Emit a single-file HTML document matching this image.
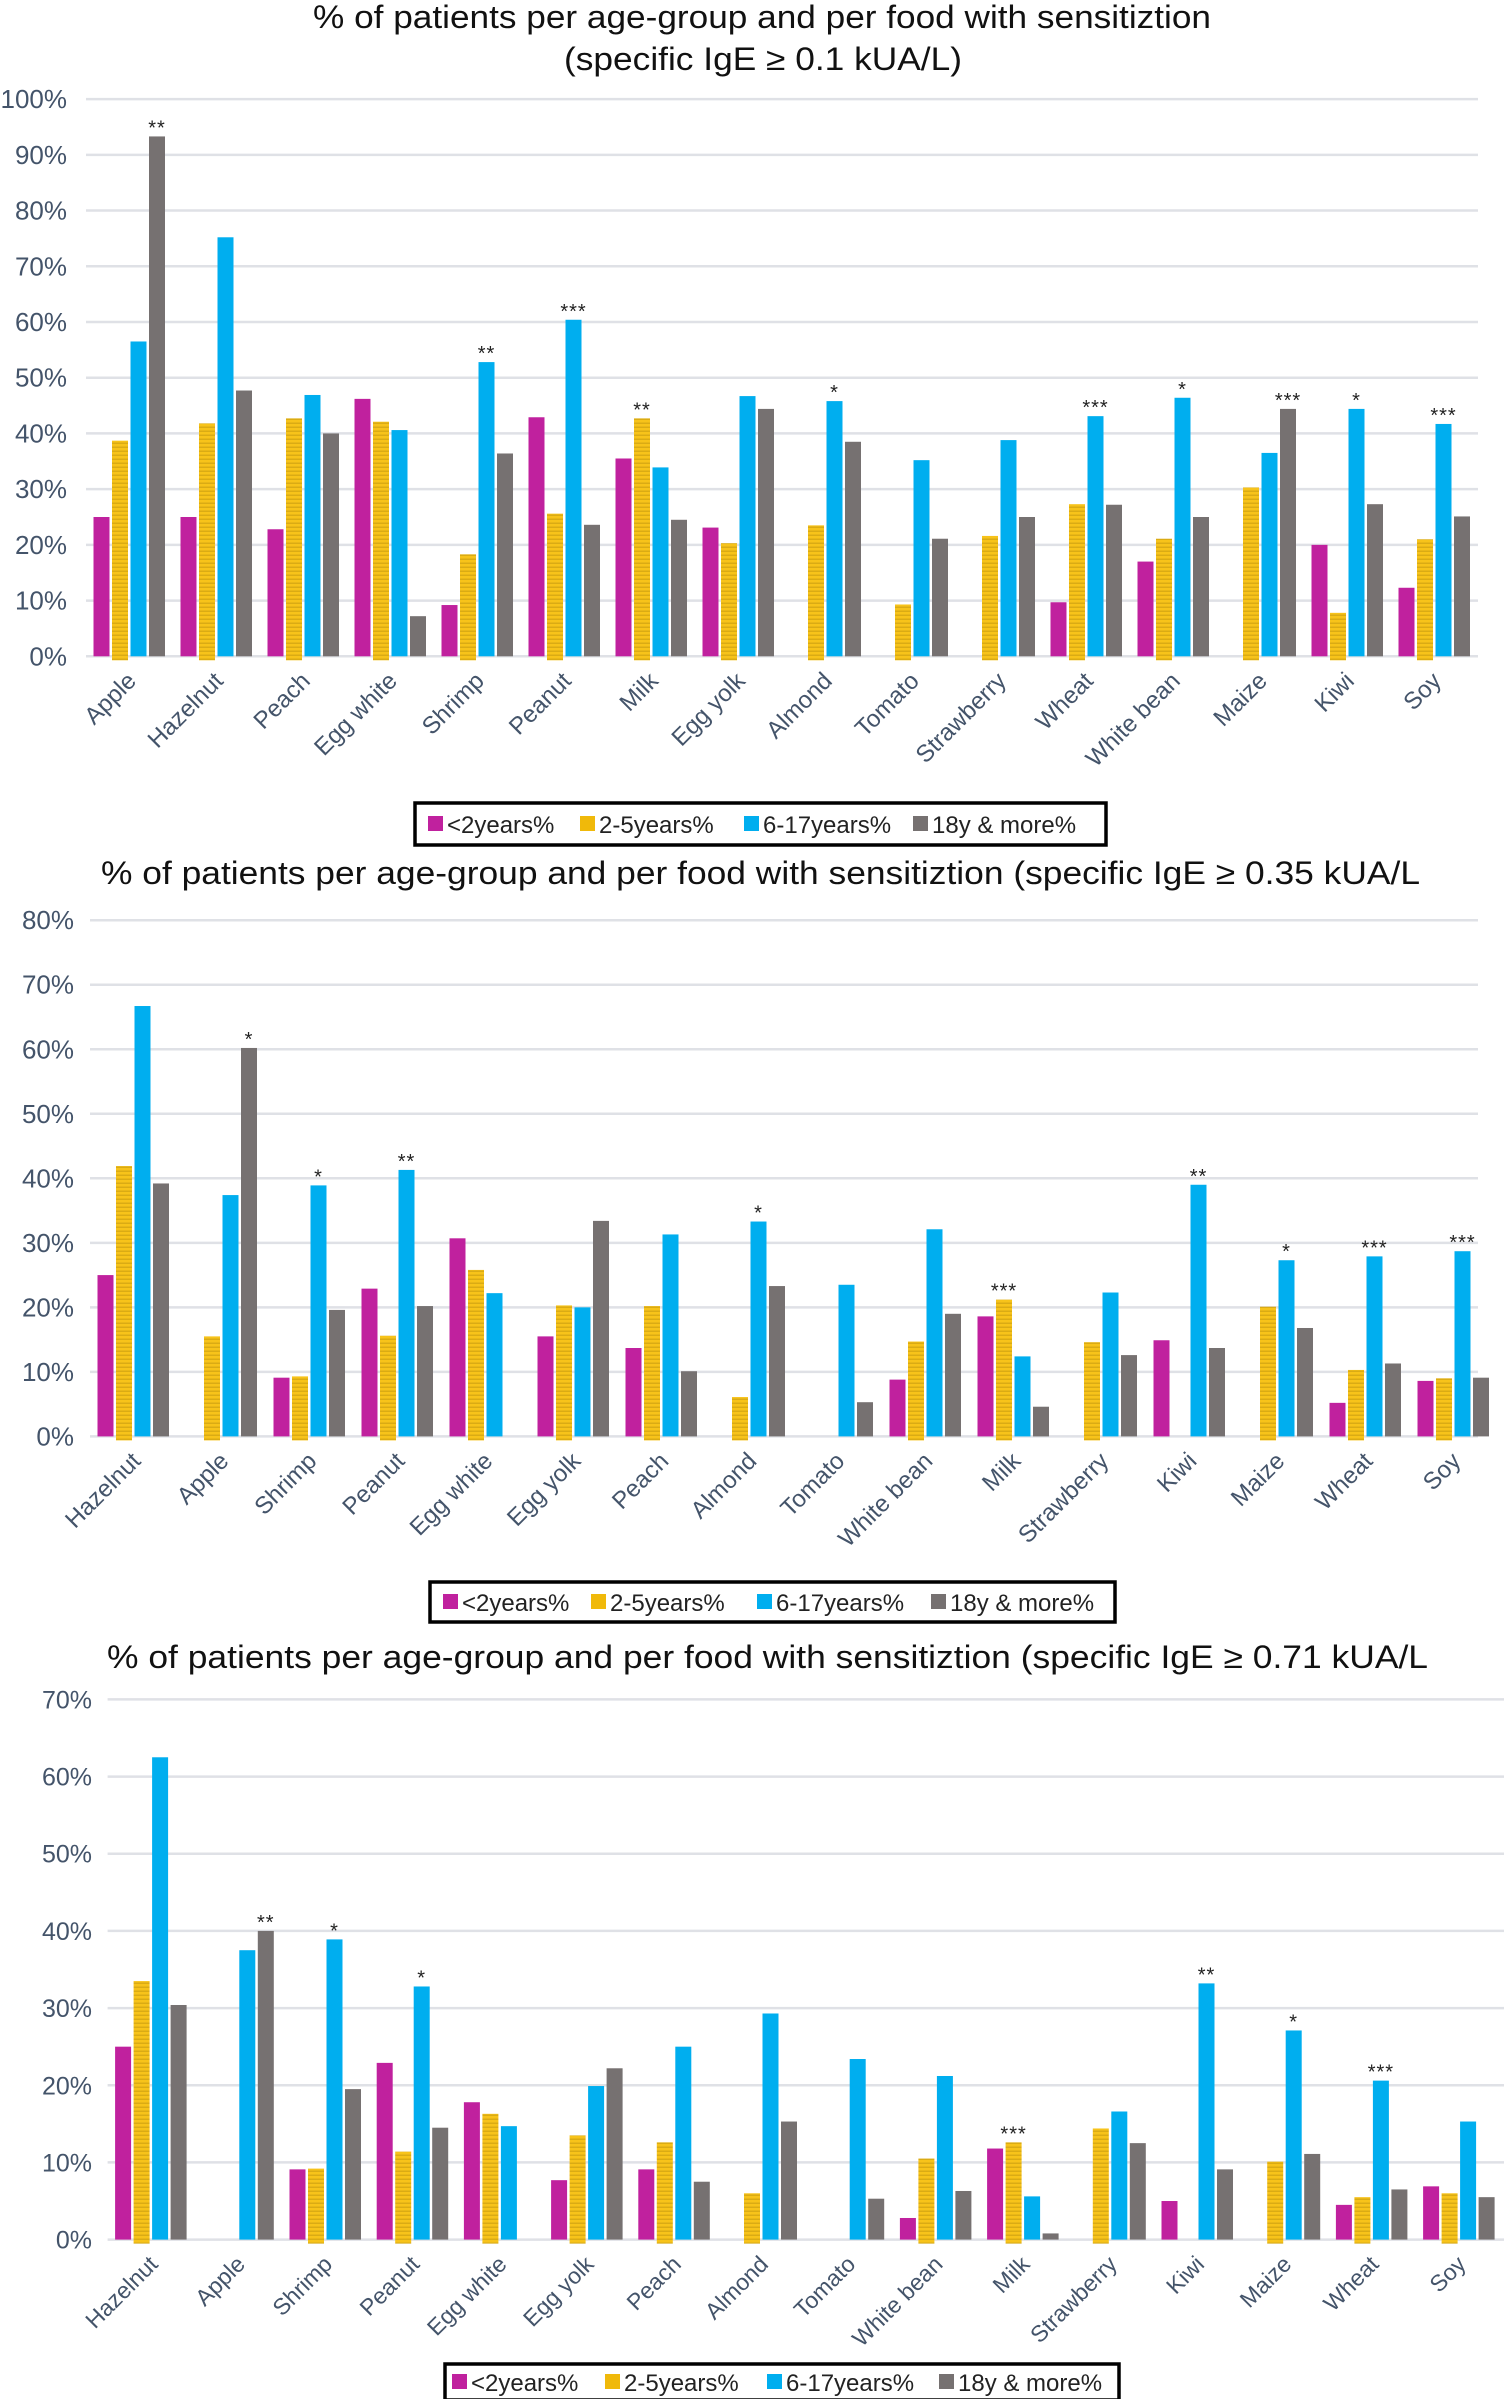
<!DOCTYPE html>
<html><head><meta charset="utf-8"><style>
html,body{margin:0;padding:0;background:#fff;}
svg{display:block;font-family:"Liberation Sans",sans-serif;}
</style></head><body>
<svg id="svg" width="1504" height="2399" viewBox="0 0 1504 2399">
<defs>
<pattern id="stripes" width="8" height="4" patternUnits="userSpaceOnUse">
<rect width="8" height="4" fill="#f7c31a"/><rect y="2.6" width="8" height="1.2" fill="#d4a512"/>
</pattern>
</defs>
</svg>
<script>
const seriesNames = ["<2years%", "2-5years%", "6-17years%", "18y & more%"];

const cats1 = ["Apple","Hazelnut","Peach","Egg white","Shrimp","Peanut","Milk","Egg yolk","Almond","Tomato","Strawberry","Wheat","White bean","Maize","Kiwi","Soy"];
const c1_lt2 = [25,25,22.8,46.2,9.2,42.9,35.5,23.1,0,0,0,9.7,17,0,20,12.3];
const c1_2to5 = [38.7,41.8,42.7,42.1,18.3,25.6,42.7,20.3,23.5,9.3,21.6,27.3,21.1,30.3,7.8,21];
const c1_6to17 = [56.5,75.2,46.9,40.6,52.8,60.4,33.9,46.7,45.8,35.2,38.8,43.1,46.4,36.5,44.4,41.7];
const c1_18p = [93.3,47.7,40,7.2,36.4,23.6,24.5,44.4,38.5,21.1,25,27.2,25,44.4,27.3,25.1];
const c1_sig = ["**","","","","**","***","**","","*","","","***","*","***","*","***"];
const c1_sigSeries = [3,0,0,0,2,2,1,0,2,0,0,2,2,3,2,2];
const c1_ticks = ["0%","10%","20%","30%","40%","50%","60%","70%","80%","90%","100%"];

const cats2 = ["Hazelnut","Apple","Shrimp","Peanut","Egg white","Egg yolk","Peach","Almond","Tomato","White bean","Milk","Strawberry","Kiwi","Maize","Wheat","Soy"];
const c2_lt2 = [25,0,9.1,22.9,30.7,15.5,13.7,0,0,8.8,18.6,0,14.9,0,5.2,8.6];
const c2_2to5 = [41.9,15.5,9.3,15.6,25.8,20.3,20.2,6.1,0,14.7,21.2,14.6,0,20.1,10.3,9];
const c2_6to17 = [66.7,37.4,38.9,41.3,22.2,20,31.3,33.3,23.5,32.1,12.4,22.3,39,27.3,27.9,28.7];
const c2_18p = [39.2,60.2,19.6,20.2,0,33.4,10.1,23.3,5.3,19,4.6,12.6,13.7,16.8,11.3,9.1];
const c2_sig = ["","*","*","**","","","","*","","","***","","**","*","***","***"];
const c2_sigSeries = [0,3,2,2,0,0,0,2,0,0,1,0,2,2,2,2];
const c2_ticks = ["0%","10%","20%","30%","40%","50%","60%","70%","80%"];

const cats3 = ["Hazelnut","Apple","Shrimp","Peanut","Egg white","Egg yolk","Peach","Almond","Tomato","White bean","Milk","Strawberry","Kiwi","Maize","Wheat","Soy"];
const c3_lt2 = [25,0,9.1,22.9,17.8,7.7,9.1,0,0,2.8,11.8,0,5,0,4.5,6.9];
const c3_2to5 = [33.5,0,9.2,11.4,16.3,13.5,12.6,6,0,10.5,12.6,14.4,0,10.1,5.5,6];
const c3_6to17 = [62.5,37.5,38.9,32.8,14.7,19.9,25,29.3,23.4,21.2,5.6,16.6,33.2,27.1,20.6,15.3];
const c3_18p = [30.4,40,19.5,14.5,0,22.2,7.5,15.3,5.3,6.3,0.8,12.5,9.1,11.1,6.5,5.5];
const c3_sig = ["","**","*","*","","","","","","","***","","**","*","***",""];
const c3_sigSeries = [0,3,2,2,0,0,0,0,0,0,1,0,2,2,2,0];
const c3_ticks = ["0%","10%","20%","30%","40%","50%","60%","70%"];

const NS = "http://www.w3.org/2000/svg";
const svg = document.getElementById("svg");
const fills = ["#c0219e","url(#stripes)","#00aeef","#767171"];
const legendFills = ["#c0219e","#f0b90a","#00aeef","#767171"];

function mk(tag, attrs, parent, text){
  const e = document.createElementNS(NS, tag);
  for (const k in attrs) e.setAttribute(k, attrs[k]);
  if (text !== undefined) e.textContent = text;
  (parent||svg).appendChild(e);
  return e;
}

function drawChart(cfg){
  const g = mk("g", {});
  
  
  const vmax = cfg.ticks.length - 1;
  const yS = v => cfg.y0 - (v/(vmax*10)) * (cfg.y0 - cfg.yTop);
  const xBand = i => cfg.left + i*cfg.band;
  cfg.titles.forEach(t => {
    const tt = mk("text", {x:t.x, y:t.y, "font-size":t.fs, fill:"#111", textLength:t.w, lengthAdjust:"spacingAndGlyphs"}, g, t.s);
    
    
  });
  cfg.ticks.forEach((lab, k) => {
    const y = yS(k*10);
    const ln = mk("line", {x1:cfg.left, x2:cfg.right, y1:y, y2:y, stroke:"#dfe1e6", "stroke-width":2.5}, g);
    
    
    const tx = mk("text", {x:cfg.tickX, y:y+9, "font-size":cfg.tickFs, fill:"#44546a", "text-anchor":"end"}, g, lab);
    
    
  });
  const series = cfg.series;
  cfg.cats.forEach((c, i) => {
    for (let s=0; s<4; s++){
      const v = series[s][i];
      if (v <= 0) continue;
      const x = xBand(i) + 7.5 + s*18.5;
      const yt = yS(v);
      const h = cfg.y0 - yt + (s===1 ? 4 : 0);
      const r = mk("rect", {x:x, y:yt, width:16, height:h, fill:fills[s]}, g);
      
      
    }
    if (cfg.sig[i]){
      const s = cfg.sigSeries[i];
      const x = xBand(i) + 7.5 + s*18.5 + 8;
      const st = mk("text", {x:x, y:yS(series[s][i]) - 2, "font-size":20, fill:"#222", "text-anchor":"middle", "letter-spacing":"1"}, g, cfg.sig[i]);
      
      
    }
    const cx = xBand(i) + cfg.band/2 + 8;
    const cy = cfg.y0 + 26;
    const ct = mk("text", {x:cx, y:cy, "font-size":cfg.catFs, fill:"#44546a", "text-anchor":"end", transform:"rotate(-45 "+cx+" "+cy+")"}, g, c);
    
    
  });
  const L = cfg.legend;
  const lb = mk("rect", {x:L.x, y:L.y, width:L.w, height:L.h, fill:"#fff", stroke:"#000", "stroke-width":3.5}, g);
  
  
  seriesNames.forEach((n, s) => {
    const ex = L.items[s];
    const sw = mk("rect", {x:ex, y:L.y + L.h/2 - 8, width:15, height:15, fill:legendFills[s]}, g);
    
    
    const lt = mk("text", {x:ex+19, y:L.y + L.h/2 + 9, "font-size":24, fill:"#222"}, g, n);
    
    
  });
}

drawChart({name:"chart-ige-0-1", cats:cats1, series:[c1_lt2,c1_2to5,c1_6to17,c1_18p], sig:c1_sig, sigSeries:c1_sigSeries, ticks:c1_ticks,
  y0:656.3, yTop:99.1, left:86, right:1478, band:87, tickX:67, tickFs:26, catFs:24,
  titles:[{s:"% of patients per age-group and per food with sensitiztion", x:313, y:28, fs:32, w:898},
          {s:"(specific IgE \u2265 0.1 kUA/L)", x:564, y:70, fs:32, w:398}],
  legend:{x:415, y:803, w:691, h:42, items:[428,580,744,913]}});

drawChart({name:"chart-ige-0-35", cats:cats2, series:[c2_lt2,c2_2to5,c2_6to17,c2_18p], sig:c2_sig, sigSeries:c2_sigSeries, ticks:c2_ticks,
  y0:1436.4, yTop:920.2, left:90, right:1478, band:88, tickX:74, tickFs:26, catFs:24,
  titles:[{s:"% of patients per age-group and per food with sensitiztion (specific IgE \u2265  0.35 kUA/L", x:101, y:884, fs:32, w:1319}],
  legend:{x:430, y:1582, w:685, h:40, items:[443,591,757,931]}});

drawChart({name:"chart-ige-0-71", cats:cats3, series:[c3_lt2,c3_2to5,c3_6to17,c3_18p], sig:c3_sig, sigSeries:c3_sigSeries, ticks:c3_ticks,
  y0:2239.6, yTop:1699.4, left:107.6, right:1504, band:87.2, tickX:92, tickFs:25, catFs:23,
  titles:[{s:"% of patients per age-group and per food with sensitiztion (specific IgE \u2265  0.71 kUA/L", x:107, y:1668, fs:32, w:1321}],
  legend:{x:445, y:2364, w:674, h:36, items:[452,605,767,939]}});
</script>
</body></html>
